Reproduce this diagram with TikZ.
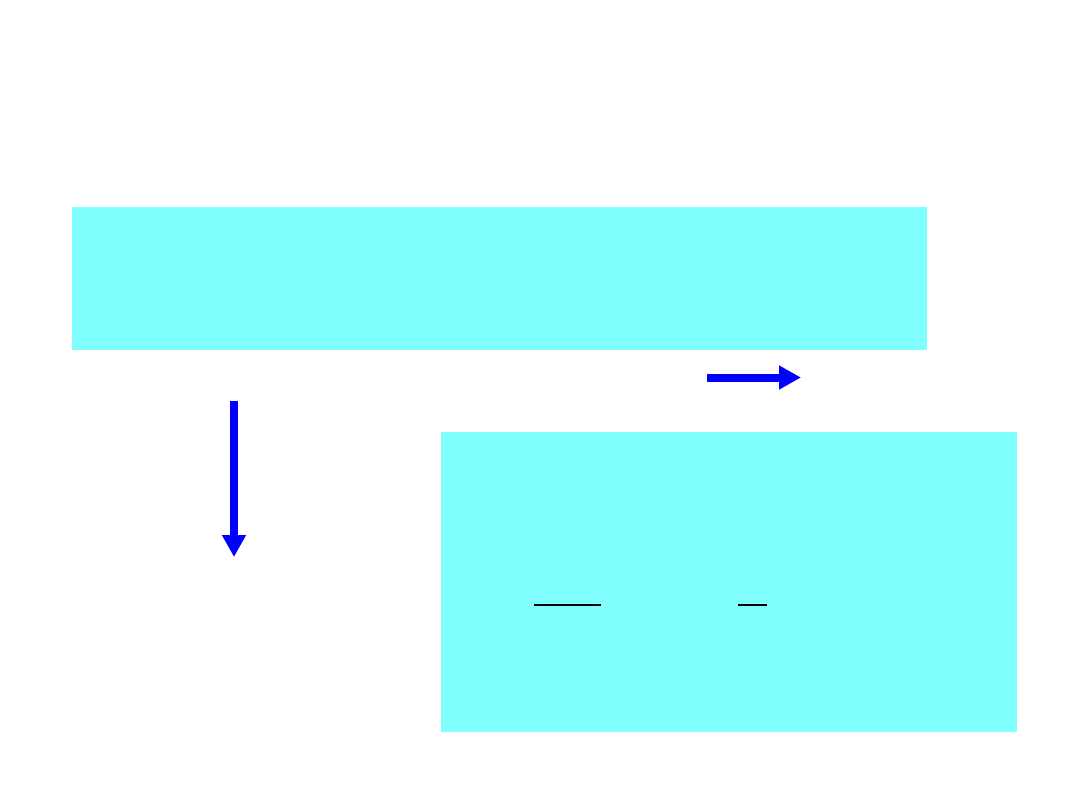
\documentclass[tikz,border=0pt]{standalone}
\usetikzlibrary{arrows.meta}
\definecolor{boxcyan}{HTML}{80FFFF}
\definecolor{arrowblue}{HTML}{0000FF}
\tikzset{
  panel/.style={fill=boxcyan, draw=none},
  bigarrow/.style={draw=arrowblue, line width=6pt, -{Triangle[length=16.5pt,width=17pt]}, arrowblue},
  fracline/.style={draw=black, line width=0.8pt}
}
\begin{document}
\begin{tikzpicture}[x=0.75pt,y=-0.75pt]
\useasboundingbox[fill=white] (0,0) rectangle (1080,810);
\fill[panel] (72,207) rectangle (927,350);
\fill[panel] (441,432) rectangle (1017,732);
\coordinate (ra) at (707,377.5);
\coordinate (rb) at (801,377.5);
\coordinate (da) at (234,401);
\coordinate (db) at (234,557);
\draw[bigarrow] (ra) -- (rb);
\draw[bigarrow] (da) -- (db);
\coordinate (f1a) at (534,605);
\coordinate (f1b) at (601,605);
\coordinate (f2a) at (738,605);
\coordinate (f2b) at (767,605);
\draw[fracline] (f1a) -- (f1b);
\draw[fracline] (f2a) -- (f2b);
\end{tikzpicture}
\end{document}
